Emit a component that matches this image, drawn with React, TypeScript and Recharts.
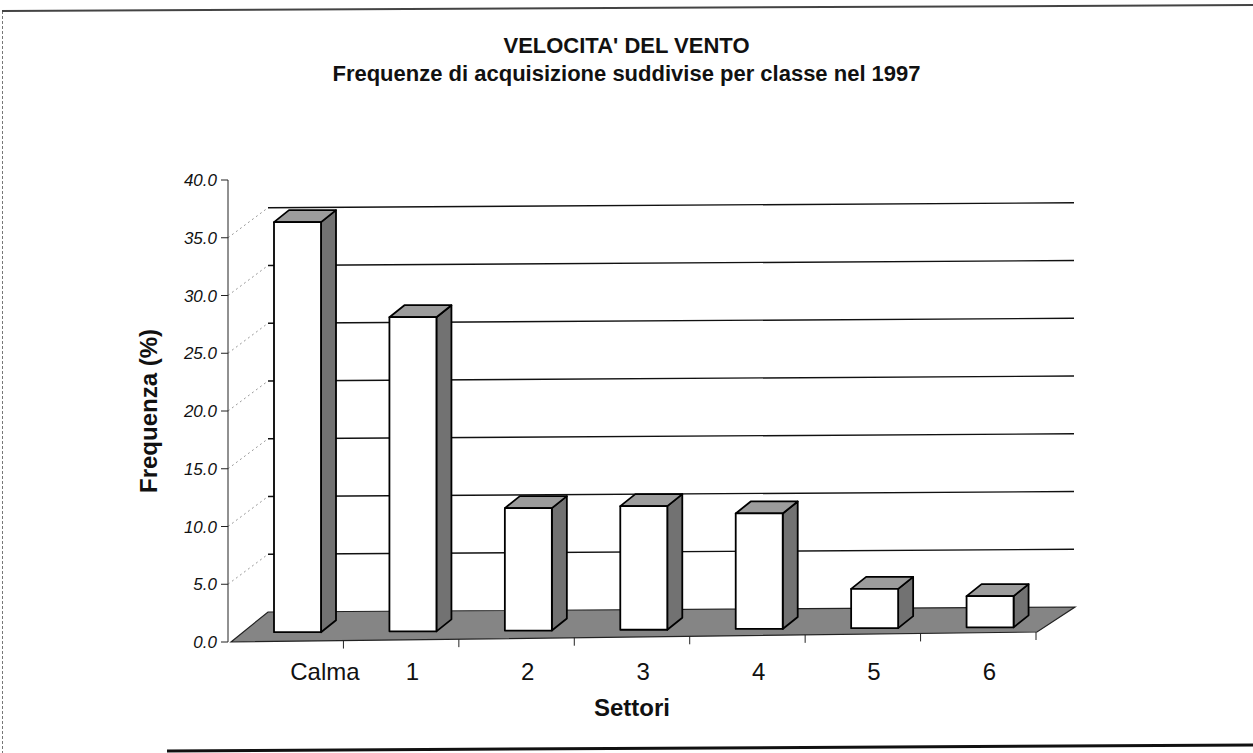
import React from "react";
import { BarChart, Bar, XAxis, YAxis, ReferenceLine } from "recharts";

// values
const categories = ["Calma", "1", "2", "3", "4", "5", "6"];
const frequenze = [35.5, 27.2, 10.6, 10.7, 10.0, 3.4, 2.7];
const yTicks = [0, 5, 10, 15, 20, 25, 30, 35, 40];
const wallLines = [5, 10, 15, 20, 25, 30, 35];

const data = categories.map((name, i) => ({ name, frequenza: frequenze[i] }));

const W = 1253;
const H = 753;
const FONT = "'Liberation Sans', Arial, sans-serif";

const PLOT_LEFT = 228;
const PLOT_RIGHT = 1036;
const BAND = (PLOT_RIGHT - PLOT_LEFT) / categories.length;

// fake 3D: back wall / floor depth and the small perspective tilt
const WALL_DX = 40;
const WALL_DY = -30;
const FRONT_SLOPE = 10 / 808;
const BACK_SLOPE = 5 / 807;
const BAR_SLOPE = 0.007;
const BAR_DX = 12;
const BAR_DY = -9.5;
const DEPTH_DX = 15;
const DEPTH_DY = -12;

const pts = (p: number[][]) => p.map((q) => q.join(",")).join(" ");

const Floor = (props: any) => {
  const { x1, y1, x2 } = props;
  const w = x2 - x1;
  return (
    <polygon
      points={pts([
        [x1 + 3, y1],
        [x1 + WALL_DX, y1 + WALL_DY],
        [x2 + WALL_DX - 1, y1 + WALL_DY - w * BACK_SLOPE],
        [x2 + 1, y1 - w * FRONT_SLOPE],
      ])}
      fill="#858585"
      stroke="#222"
      strokeWidth={1.2}
    />
  );
};

const WallLine = (props: any) => {
  const { x1, y1, x2 } = props;
  const w = x2 - x1;
  const bx = x1 + WALL_DX;
  const by = y1 + WALL_DY;
  return (
    <g>
      <line x1={x1} y1={y1} x2={bx} y2={by} stroke="#9a9a9a" strokeWidth={1} strokeDasharray="2 3" />
      <line x1={bx} y1={by} x2={x2 + WALL_DX - 2} y2={by - w * BACK_SLOPE} stroke="#111" strokeWidth={1.4} />
    </g>
  );
};

const Bar3D = (props: any) => {
  const { x, y, width, height } = props;
  const left = x + BAR_DX;
  const right = left + width;
  const base = y + height + BAR_DY - (left - PLOT_LEFT) * BAR_SLOPE;
  const top = base - height;
  return (
    <g stroke="#000" strokeWidth={1.8} strokeLinejoin="round">
      <polygon
        points={pts([
          [right, top],
          [right + DEPTH_DX, top + DEPTH_DY],
          [right + DEPTH_DX, base + DEPTH_DY],
          [right, base],
        ])}
        fill="#727272"
      />
      <polygon
        points={pts([
          [left, top],
          [left + DEPTH_DX, top + DEPTH_DY],
          [right + DEPTH_DX, top + DEPTH_DY],
          [right, top],
        ])}
        fill="#9c9c9c"
      />
      <rect x={left} y={top} width={width} height={height} fill="#fff" />
    </g>
  );
};

const SectorTick = (props: any) => {
  const { x, y, payload, index } = props;
  const edge = (bx: number) => {
    const yy = y - (bx - PLOT_LEFT) * FRONT_SLOPE;
    return <line x1={bx} y1={yy} x2={bx} y2={yy + 8} stroke="#222" strokeWidth={1} />;
  };
  return (
    <g>
      {index > 0 && edge(x - BAND / 2)}
      {index === categories.length - 1 && edge(x + BAND / 2)}
      <text x={x + 4.5} y={y + 38} textAnchor="start" fontSize={24} fontFamily={FONT} fill="#111">
        {payload.value}
      </text>
    </g>
  );
};

export default function App() {
  return (
    <div style={{ position: "absolute", left: 0, top: 0, width: W, height: H, background: "#fff", fontFamily: FONT }}>
      <svg width={W} height={H} style={{ position: "absolute", left: 0, top: 0 }}>
        <line x1={2.5} y1={11} x2={2.5} y2={H} stroke="#777" strokeDasharray="3 2" />
        <line x1={2} y1={11} x2={W} y2={5} stroke="#444" strokeWidth={2} />
        <line x1={167} y1={751} x2={W} y2={745} stroke="#111" strokeWidth={3} />
      </svg>
      <div style={{ position: "absolute", left: 0, top: 0 }}>
        <BarChart
          width={W}
          height={H}
          data={data}
          margin={{ top: 180, right: 217, bottom: 31, left: 138 }}
        >
          <ReferenceLine y={0} shape={Floor} zIndex={-20} />
          {wallLines.map((v) => (
            <ReferenceLine key={v} y={v} shape={WallLine} zIndex={-10} />
          ))}
          <XAxis
            dataKey="name"
            interval={0}
            height={80}
            tickSize={0}
            tickMargin={0}
            tickLine={false}
            axisLine={false}
            tick={SectorTick}
            label={{
              value: "Settori",
              position: "insideBottom",
              offset: 6,
              fontSize: 24,
              fontWeight: "bold",
              fill: "#111",
              fontFamily: FONT,
            }}
          />
          <YAxis
            domain={[0, 40]}
            ticks={yTicks}
            width={90}
            tickSize={7}
            tickMargin={4}
            tickFormatter={(v: number) => v.toFixed(1)}
            tick={{ fontSize: 17, fontStyle: "italic", fill: "#111", fontFamily: FONT }}
            axisLine={{ stroke: "#222" }}
            tickLine={{ stroke: "#222" }}
            label={{
              value: "Frequenza (%)",
              angle: -90,
              position: "insideLeft",
              offset: 10,
              style: { textAnchor: "middle" },
              fontSize: 24,
              fontWeight: "bold",
              fill: "#111",
              fontFamily: FONT,
            }}
          />
          <Bar dataKey="frequenza" barSize={47} shape={Bar3D} isAnimationActive={false} />
        </BarChart>
      </div>
      <div
        style={{
          position: "absolute",
          left: 0,
          width: W,
          top: 35,
          textAlign: "center",
          fontSize: 22,
          fontWeight: "bold",
          lineHeight: "22px",
          color: "#111",
        }}
      >
        VELOCITA' DEL VENTO
      </div>
      <div
        style={{
          position: "absolute",
          left: 0,
          width: W,
          top: 63,
          textAlign: "center",
          fontSize: 22,
          fontWeight: "bold",
          lineHeight: "22px",
          color: "#111",
        }}
      >
        Frequenze di acquisizione suddivise per classe nel 1997
      </div>
    </div>
  );
}
